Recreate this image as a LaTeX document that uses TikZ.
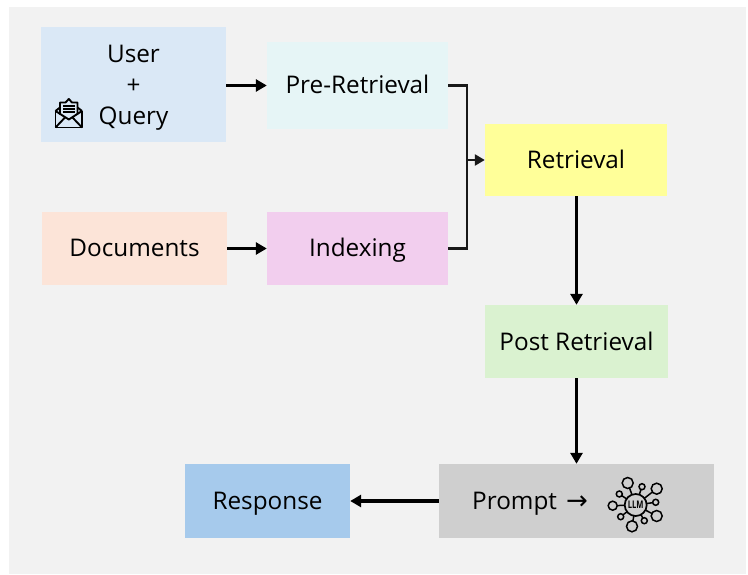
\documentclass[tikz,border=0pt]{standalone}
\usepackage{fontspec}
\setmainfont{Open Sans}
\newfontfamily\symfont{DejaVu Sans}
\usetikzlibrary{arrows.meta,calc}
\definecolor{panelc}{HTML}{F2F2F2}
\definecolor{userc}{HTML}{DAE8F6}
\definecolor{prec}{HTML}{E6F5F6}
\definecolor{retc}{HTML}{FFFF99}
\definecolor{docc}{HTML}{FCE4D8}
\definecolor{idxc}{HTML}{F2CEEE}
\definecolor{postc}{HTML}{DAF2D0}
\definecolor{promptc}{HTML}{CFCFCF}
\definecolor{respc}{HTML}{A6CAEC}
\tikzset{
 x=1pt,y=-1pt,
 boxn/.style={rectangle,inner sep=0pt,text=black,font=\fontsize{24.3}{28}\selectfont,text height=17pt,text depth=0pt},
 txt/.style={inner sep=0pt,text=black,font=\fontsize{24.3}{28}\selectfont,text height=17pt,text depth=0pt},
 flow/.style={line width=3.5pt,draw=black,-{Triangle[length=11pt,width=12pt]}},
 merge/.style={line width=2.4pt,draw=black!90},
 iconl/.style={draw=black,line width=1.9pt},
}
\begin{document}
\begin{tikzpicture}
\useasboundingbox (0,0) rectangle (748,575);
\fill[white] (0,0) rectangle (748,575);
\fill[panelc] (9,7) rectangle (746,574);
\node[boxn,fill=userc,minimum width=185pt,minimum height=115pt] (user) at (133.5,84.5) {};
\node[txt] (usert) at (133.5,54) {User};
\node[txt] (plust) at (133.5,85) {+};
\node[txt] (queryt) at (133.5,116) {Query};
\node[boxn,fill=prec,minimum width=181pt,minimum height=87pt] (pre) at (357.5,85.5) {Pre-Retrieval};
\node[boxn,fill=retc,minimum width=182pt,minimum height=72pt] (ret) at (576,160) {Retrieval};
\node[boxn,fill=docc,minimum width=185pt,minimum height=73pt] (doc) at (134.5,248.5) {Documents};
\node[boxn,fill=idxc,minimum width=181pt,minimum height=73pt] (idx) at (357.5,248.5) {Indexing};
\node[boxn,fill=postc,minimum width=183pt,minimum height=73pt] (post) at (576.5,341.5) {Post Retrieval};
\node[boxn,fill=promptc,minimum width=275pt,minimum height=74pt] (prompt) at (576.5,501) {};
\node[boxn,fill=respc,minimum width=165pt,minimum height=74pt] (resp) at (267.5,501) {Response};
\node[txt,anchor=west] (promptt) at (472,501) {Prompt};
\node[inner sep=0pt,anchor=base west,font=\fontsize{26}{28}\symfont] (arrowt) at (566,509.5) {→};
% connectors
\draw[flow] (user.east|-pre.west) -- (pre.west);
\draw[flow] (doc.east) -- (idx.west);
\draw[flow] (post.north|-ret.south) -- (post.north);
\draw[flow] (post.south) -- (post.south|-prompt.north);
\draw[flow] (prompt.west) -- (resp.east);
\coordinate (bus) at (467,160);
\draw[merge,line cap=butt] (pre.east) -| (bus) |- (idx.east);
\draw[merge,-{Triangle[length=10pt,width=11pt]}] (bus) -- (ret.west);
% envelope icon
\begin{scope}[iconl,line join=round]
\draw (55.5,111) -- (55.5,127.5) -- (82,127.5) -- (82,111);
\draw (55.5,111) -- (60,107.5) (82,111) -- (77.5,107.5);
\draw (60,114.5) -- (60,102.5) -- (65.5,102.5) -- (68.8,99) -- (72,102.5) -- (77.5,102.5) -- (77.5,114.5);
\draw (55.5,111) -- (68.8,119.5) -- (82,111);
\draw (55.5,127.5) -- (65,117.5) (82,127.5) -- (72.5,117.5);
\draw[line width=1.1pt] (63,106) -- (74.5,106) (63,109) -- (74.5,109) (63,112) -- (74.5,112);
\end{scope}
% LLM icon
\coordinate (hub) at (635.7,505);
\foreach \px/\py/\pr in {627.7/483/5.5,642/486.7/3,656.7/488.7/5.5,655.7/502.3/3,656.7/516/5.5,644.3/520.7/3,632/526.3/5.5,620.7/516.7/3,612.7/505.7/4.5,619.3/494/3}{
  \draw[iconl,line width=1.5pt] (hub) -- (\px,\py);
  \draw[iconl,line width=1.5pt,fill=promptc] (\px,\py) circle[radius=\pr];
}
\draw[iconl,line width=1.7pt,fill=promptc] (hub) circle[radius=11];
\node[inner sep=0pt,xscale=0.72,font=\fontsize{10.5}{12}\bfseries\selectfont] (llmt) at (hub) {LLM};
\end{tikzpicture}
\end{document}
